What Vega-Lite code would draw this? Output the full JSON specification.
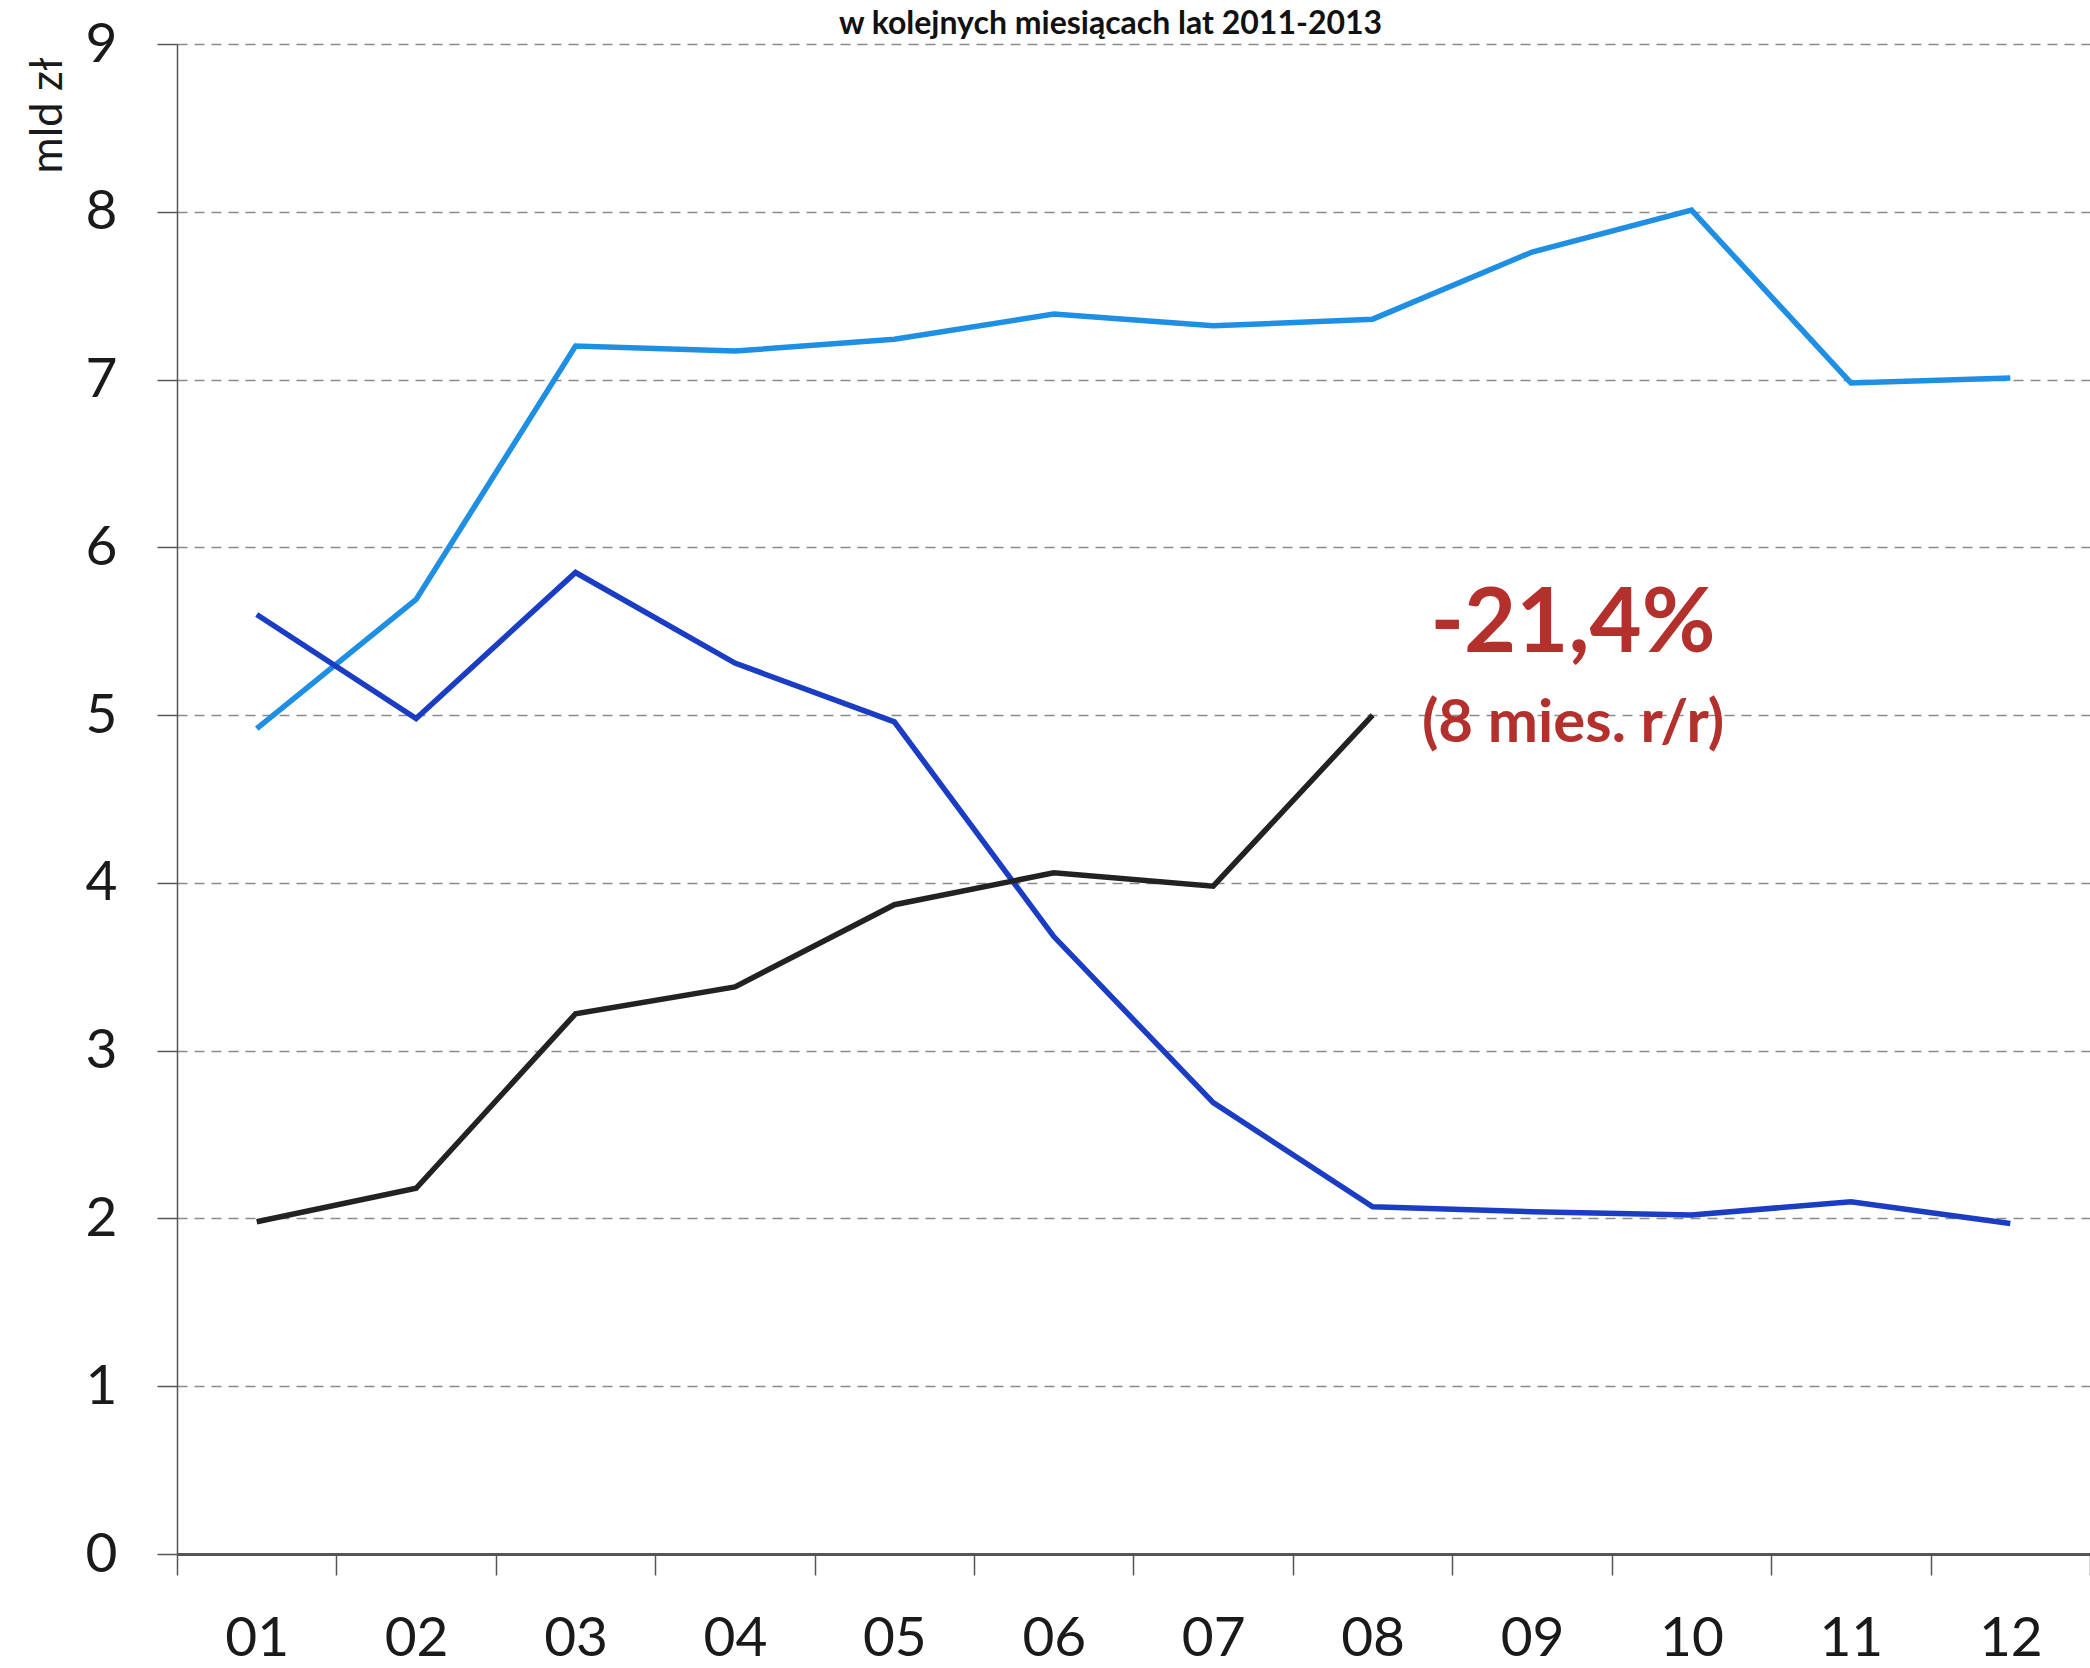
{
  "$schema": "https://vega.github.io/schema/vega-lite/v6.json",
  "width": 1913,
  "height": 1510,
  "autosize": "none",
  "padding": {"left": 177, "top": 44, "right": 0, "bottom": 114},
  "background": "white",
  "config": {"view": {"stroke": null}, "font": "Lato"},
  "title": {
    "text": "w kolejnych miesiącach lat 2011-2013",
    "anchor": "middle",
    "frame": "group",
    "fontSize": 32,
    "font": "Lato",
    "fontWeight": "bold",
    "color": "#111111",
    "baseline": "alphabetic",
    "offset": -49,
    "dx": -23
  },
  "datasets": {
    "series": [
      {"m": "01", "rok": "2011", "v": 4.92},
      {"m": "02", "rok": "2011", "v": 5.69},
      {"m": "03", "rok": "2011", "v": 7.2},
      {"m": "04", "rok": "2011", "v": 7.17},
      {"m": "05", "rok": "2011", "v": 7.24},
      {"m": "06", "rok": "2011", "v": 7.39},
      {"m": "07", "rok": "2011", "v": 7.32},
      {"m": "08", "rok": "2011", "v": 7.36},
      {"m": "09", "rok": "2011", "v": 7.76},
      {"m": "10", "rok": "2011", "v": 8.01},
      {"m": "11", "rok": "2011", "v": 6.98},
      {"m": "12", "rok": "2011", "v": 7.01},
      {"m": "01", "rok": "2012", "v": 5.6},
      {"m": "02", "rok": "2012", "v": 4.98},
      {"m": "03", "rok": "2012", "v": 5.85},
      {"m": "04", "rok": "2012", "v": 5.31},
      {"m": "05", "rok": "2012", "v": 4.96},
      {"m": "06", "rok": "2012", "v": 3.68},
      {"m": "07", "rok": "2012", "v": 2.69},
      {"m": "08", "rok": "2012", "v": 2.07},
      {"m": "09", "rok": "2012", "v": 2.04},
      {"m": "10", "rok": "2012", "v": 2.02},
      {"m": "11", "rok": "2012", "v": 2.1},
      {"m": "12", "rok": "2012", "v": 1.97},
      {"m": "01", "rok": "2013", "v": 1.98},
      {"m": "02", "rok": "2013", "v": 2.18},
      {"m": "03", "rok": "2013", "v": 3.22},
      {"m": "04", "rok": "2013", "v": 3.38},
      {"m": "05", "rok": "2013", "v": 3.87},
      {"m": "06", "rok": "2013", "v": 4.06},
      {"m": "07", "rok": "2013", "v": 3.98},
      {"m": "08", "rok": "2013", "v": 5.0}
    ],
    "notes": [
      {"m": "09", "v": 5.54, "label": "-21,4%", "kind": "big"},
      {"m": "09", "v": 4.95, "label": "(8 mies. r/r)", "kind": "small"}
    ]
  },
  "layer": [
    {
      "data": {"name": "series"},
      "mark": {"type": "line", "strokeWidth": 5.5, "strokeJoin": "miter", "strokeCap": "butt"},
      "encoding": {
        "x": {
          "field": "m",
          "type": "ordinal",
          "bandPosition": 0.5,
          "scale": {"type": "band", "paddingInner": 0, "paddingOuter": 0},
          "axis": {
            "title": null,
            "tickBand": "extent",
            "labelAngle": 0,
            "labelFont": "Lato",
            "labelFontSize": 55,
            "labelColor": "#1a1a1a",
            "labelPadding": 37,
            "labelBaseline": "top",
            "tickSize": 21,
            "tickColor": "#555555",
            "tickWidth": 1.5,
            "domainColor": "#555555",
            "domainWidth": 3,
            "grid": false
          }
        },
        "y": {
          "field": "v",
          "type": "quantitative",
          "scale": {"domain": [0, 9], "nice": false},
          "axis": {
            "values": [0, 1, 2, 3, 4, 5, 6, 7, 8, 9],
            "format": "d",
            "title": "mld zł",
            "titleFont": "Lato",
            "titleFontSize": 44,
            "titleFontWeight": "normal",
            "titleColor": "#1a1a1a",
            "titleAngle": -90,
            "titleAlign": "center",
            "titleBaseline": "middle",
            "titleX": -129,
            "titleY": 71,
            "labelFont": "Lato",
            "labelFontSize": 55,
            "labelColor": "#1a1a1a",
            "labelPadding": 40,
            "tickSize": 20,
            "tickColor": "#555555",
            "tickWidth": 1.5,
            "domainColor": "#555555",
            "domainWidth": 1.5,
            "grid": true,
            "gridColor": "#8a8a8a",
            "gridWidth": 1.5,
            "gridDash": [10, 7]
          }
        },
        "color": {
          "field": "rok",
          "type": "nominal",
          "scale": {"domain": ["2011", "2012", "2013"], "range": ["#1f8fe4", "#1b3dc4", "#222222"]},
          "legend": null
        }
      }
    },
    {
      "data": {"name": "notes"},
      "transform": [{"filter": "datum.kind === 'big'"}],
      "mark": {"type": "text", "font": "Lato", "fontWeight": "bold", "fontSize": 90, "color": "#b3302d", "align": "center", "baseline": "middle", "dx": 41},
      "encoding": {
        "x": {"field": "m", "type": "ordinal", "bandPosition": 0.5},
        "y": {"field": "v", "type": "quantitative"},
        "text": {"field": "label"}
      }
    },
    {
      "data": {"name": "notes"},
      "transform": [{"filter": "datum.kind === 'small'"}],
      "mark": {"type": "text", "font": "Lato", "fontWeight": "bold", "fontSize": 60, "color": "#b3302d", "align": "center", "baseline": "middle", "dx": 41},
      "encoding": {
        "x": {"field": "m", "type": "ordinal", "bandPosition": 0.5},
        "y": {"field": "v", "type": "quantitative"},
        "text": {"field": "label"}
      }
    }
  ]
}
